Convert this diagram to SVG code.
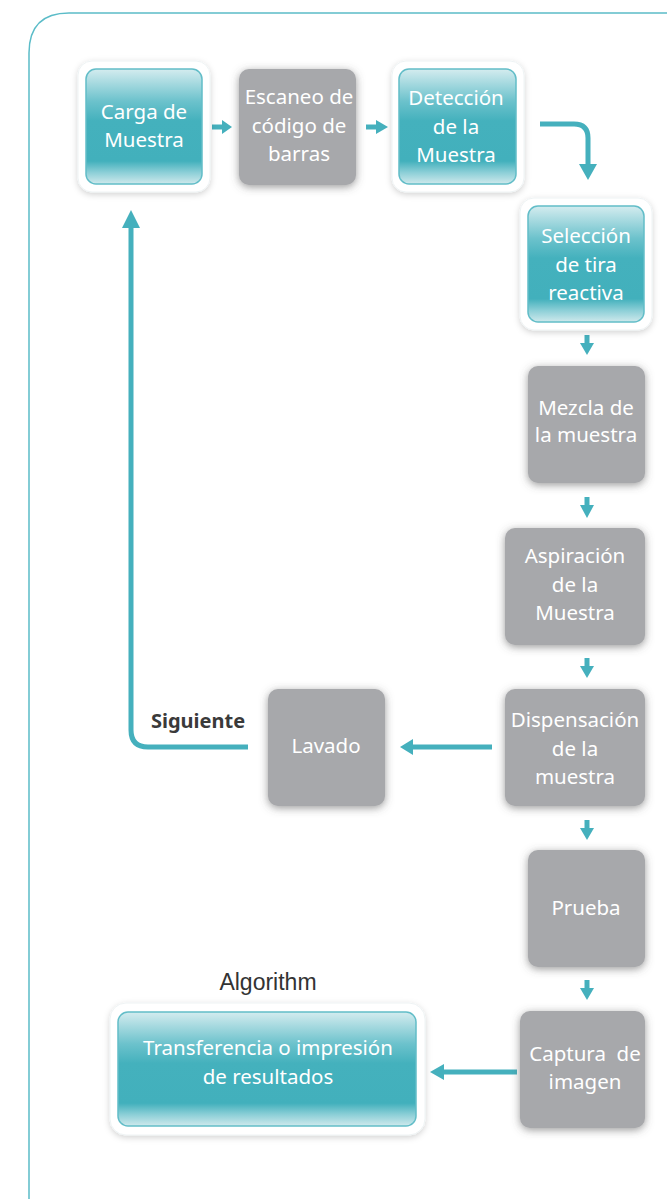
<svg xmlns="http://www.w3.org/2000/svg" width="667" height="1199" viewBox="0 0 667 1199">
<defs>
<style>
.t{font-family:"Noto Sans","Open Sans",sans-serif;font-size:20.5px;fill:#ffffff;text-anchor:middle}
.gray{fill:#a7a8ab}
.frame{fill:#ffffff;stroke:#eef3f4;stroke-width:1}
.teal{fill:url(#tg);stroke:#62bdc8;stroke-width:1.5}
.con{fill:none;stroke:#45b0bd;stroke-width:5}
.ah{fill:#45b0bd}
</style>
<linearGradient id="tg" x1="0" y1="0" x2="0" y2="1">
<stop offset="0" stop-color="#d4ecef"/>
<stop offset="0.28" stop-color="#6cc2cc"/>
<stop offset="0.45" stop-color="#44b1bd"/>
<stop offset="0.8" stop-color="#42b0bc"/>
<stop offset="0.9" stop-color="#8ccfd7"/>
<stop offset="1" stop-color="#cfe9ec"/>
</linearGradient>
<filter id="gs" x="-30%" y="-30%" width="160%" height="160%">
<feGaussianBlur in="SourceAlpha" stdDeviation="4.5"/>
<feOffset dx="0" dy="2" result="b"/>
<feFlood flood-color="#555" flood-opacity="0.6"/>
<feComposite in2="b" operator="in"/>
<feMerge><feMergeNode/><feMergeNode in="SourceGraphic"/></feMerge>
</filter>
<filter id="fs" x="-20%" y="-20%" width="140%" height="140%">
<feGaussianBlur in="SourceAlpha" stdDeviation="3"/>
<feOffset dx="0" dy="2" result="b"/>
<feFlood flood-color="#000" flood-opacity="0.18"/>
<feComposite in2="b" operator="in"/>
<feMerge><feMergeNode/><feMergeNode in="SourceGraphic"/></feMerge>
</filter>
</defs>
<rect width="667" height="1199" fill="#ffffff"/>
<path d="M29 1199 L29 53 Q29 13 69 13 L667 13" fill="none" stroke="#5bbcc8" stroke-width="1.5"/>

<g id="connectors">
<path class="con" d="M212 127 H224"/><polygon class="ah" points="222,120 232,127 222,134"/>
<path class="con" d="M366 127 H378"/><polygon class="ah" points="376,120 388,127 376,134"/>
<path class="con" d="M540 124 H574 Q588 124 588 138 V166"/><polygon class="ah" points="579,164 588,180 597,164"/>
<path class="con" d="M587 335 V345"/><polygon class="ah" points="580,343 587,355 594,343"/>
<path class="con" d="M587 497 V507"/><polygon class="ah" points="580,505 587,518 594,505"/>
<path class="con" d="M587 658 V668"/><polygon class="ah" points="580,666 587,678 594,666"/>
<path class="con" d="M587 820 V830"/><polygon class="ah" points="580,828 587,840 594,828"/>
<path class="con" d="M587 980 V990"/><polygon class="ah" points="580,988 587,1000 594,988"/>
<path class="con" d="M492 747 H410"/><polygon class="ah" points="413,739 400,747 413,755"/>
<path class="con" d="M517 1072 H442"/><polygon class="ah" points="444,1064 430,1072 444,1080"/>
<path class="con" d="M248 747 H148 Q131 747 131 730 V224"/><polygon class="ah" points="122,228 131,210 140,228"/>
</g>

<g id="n-carga">
<rect class="frame" x="78" y="61" width="132" height="131" rx="14" filter="url(#fs)"/>
<rect class="teal" x="86" y="69" width="116" height="115" rx="10"/>
<text class="t" x="144" y="119">Carga de</text>
<text class="t" x="144" y="147">Muestra</text>
</g>
<g id="n-escaneo">
<rect class="gray" x="239" y="69" width="117" height="116" rx="10" filter="url(#gs)"/>
<text class="t" x="299" y="104">Escaneo de</text>
<text class="t" x="299" y="133">código de</text>
<text class="t" x="299" y="161">barras</text>
</g>
<g id="n-deteccion">
<rect class="frame" x="392" y="61" width="132" height="131" rx="14" filter="url(#fs)"/>
<rect class="teal" x="399" y="69" width="117" height="115" rx="10"/>
<text class="t" x="456" y="105">Detección</text>
<text class="t" x="456" y="134">de la</text>
<text class="t" x="456" y="162">Muestra</text>
</g>
<g id="n-seleccion">
<rect class="frame" x="520" y="198" width="132" height="132" rx="14" filter="url(#fs)"/>
<rect class="teal" x="528" y="206" width="116" height="116" rx="10"/>
<text class="t" x="586" y="243">Selección</text>
<text class="t" x="586" y="272">de tira</text>
<text class="t" x="586" y="300">reactiva</text>
</g>
<g id="n-mezcla">
<rect class="gray" x="528" y="366" width="117" height="117" rx="10" filter="url(#gs)"/>
<text class="t" x="586" y="415">Mezcla de</text>
<text class="t" x="586" y="442">la muestra</text>
</g>
<g id="n-aspiracion">
<rect class="gray" x="505" y="528" width="140" height="117" rx="10" filter="url(#gs)"/>
<text class="t" x="575" y="563">Aspiración</text>
<text class="t" x="575" y="592">de la</text>
<text class="t" x="575" y="620">Muestra</text>
</g>
<g id="n-dispensacion">
<rect class="gray" x="505" y="689" width="140" height="117" rx="10" filter="url(#gs)"/>
<text class="t" x="575" y="727">Dispensación</text>
<text class="t" x="575" y="756">de la</text>
<text class="t" x="575" y="784">muestra</text>
</g>
<g id="n-lavado">
<rect class="gray" x="268" y="689" width="117" height="117" rx="10" filter="url(#gs)"/>
<text class="t" x="326" y="753">Lavado</text>
</g>
<g id="n-prueba">
<rect class="gray" x="528" y="850" width="117" height="117" rx="10" filter="url(#gs)"/>
<text class="t" x="586" y="915">Prueba</text>
</g>
<g id="n-captura">
<rect class="gray" x="520" y="1011" width="125" height="117" rx="10" filter="url(#gs)"/>
<text class="t" x="585" y="1061" xml:space="preserve">Captura  de</text>
<text class="t" x="585" y="1089">imagen</text>
</g>
<g id="n-transferencia">
<rect class="frame" x="110" y="1003" width="315" height="132" rx="16" filter="url(#fs)"/>
<rect class="teal" x="118" y="1012" width="298" height="114" rx="10"/>
<text class="t" x="268" y="1055">Transferencia o impresión</text>
<text class="t" x="268" y="1084">de resultados</text>
</g>
<g id="labels">
<text x="198" y="728" font-family="Noto Sans, sans-serif" font-size="20" font-weight="bold" fill="#3a3a3a" text-anchor="middle">Siguiente</text>
<text x="268" y="990" font-family="Liberation Sans, Arial, sans-serif" font-size="23" fill="#333333" text-anchor="middle">Algorithm</text>
</g>
</svg>
